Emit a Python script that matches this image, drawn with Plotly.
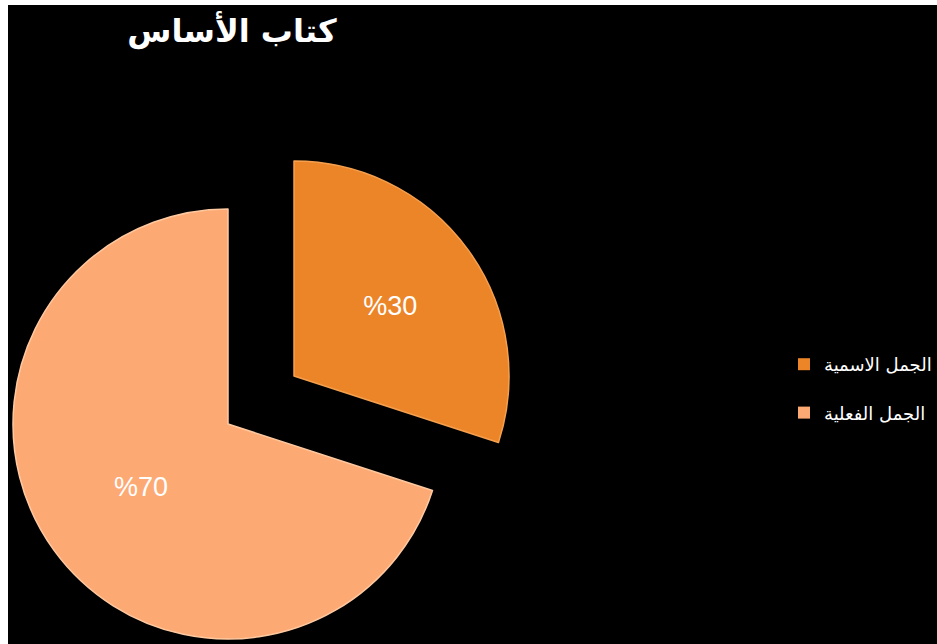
import plotly.graph_objects as go

# Sentence types in the book, share of each (%)
labels = ["الجمل الاسمية", "الجمل الفعلية"]
values = [30, 70]
colors = ["#EC8428", "#FDA974"]
edge_colors = ["#F6A04E", "#FFC9A0"]

title_text = "كتاب الأساس"

W, H = 937, 644
R = 215                       # pie radius in px
centers = [(294, 376), (228, 424)]  # first slice is drawn exploded away from the rest


def domain_for(cx, cy, r):
    return dict(x=[(cx - r) / W, (cx + r) / W],
                y=[1 - (cy + r) / H, 1 - (cy - r) / H])


fig = go.Figure()

# Legend keys: one sub-pixel pie per category, tucked under the large slice,
# each in its own legend group so the legend rows can be spaced apart
for j in range(len(values)):
    fig.add_trace(go.Pie(
        labels=[labels[j]],
        values=[values[j]],
        domain=domain_for(120, 520, 0.2),
        marker=dict(colors=[colors[j]]),
        textinfo="none",
        hoverinfo="skip",
        showlegend=True,
        legendgroup=f"g{j}",
    ))

# Each slice is drawn by its own trace so it can sit at its own centre
for i, (cx, cy) in enumerate(centers):
    show = [j == i for j in range(len(values))]
    fill = [colors[j] if show[j] else "rgba(0,0,0,0)" for j in range(len(values))]
    line = [edge_colors[j] if show[j] else "rgba(0,0,0,0)" for j in range(len(values))]
    text = [f"%{values[j]}" if show[j] else "" for j in range(len(values))]
    fig.add_trace(go.Pie(
        labels=labels,
        values=values,
        sort=False,
        direction="clockwise",
        rotation=0,
        domain=domain_for(cx, cy, R),
        marker=dict(colors=fill, line=dict(color=line, width=1.5)),
        text=text,
        textinfo="text",
        textposition="inside",
        insidetextorientation="horizontal",
        insidetextfont=dict(color="white", size=27, family="Liberation Sans, Arial, sans-serif"),
        showlegend=False,
        legendgroup=f"g{i}",
        hoverinfo="label+percent",
    ))

fig.update_layout(
    width=W,
    height=H,
    margin=dict(l=0, r=0, t=0, b=0, autoexpand=False),
    paper_bgcolor="white",
    shapes=[dict(type="rect", xref="paper", yref="paper",
                 x0=8 / W, x1=1, y0=0, y1=1 - 5 / H,
                 fillcolor="black", line=dict(width=0), layer="below")],
    title=dict(text=f"<b>{title_text}</b>", x=232 / W, xanchor="center",
               y=1 - 31 / H, yanchor="middle",
               font=dict(size=32, color="white", family="DejaVu Sans, sans-serif")),
    legend=dict(x=784 / W, xanchor="left", y=1 - 346 / H, yanchor="top",
                font=dict(size=18, color="white", family="DejaVu Sans, sans-serif"),
                bgcolor="rgba(0,0,0,0)", tracegroupgap=22, traceorder="grouped"),
)

fig.write_html("out.html")
